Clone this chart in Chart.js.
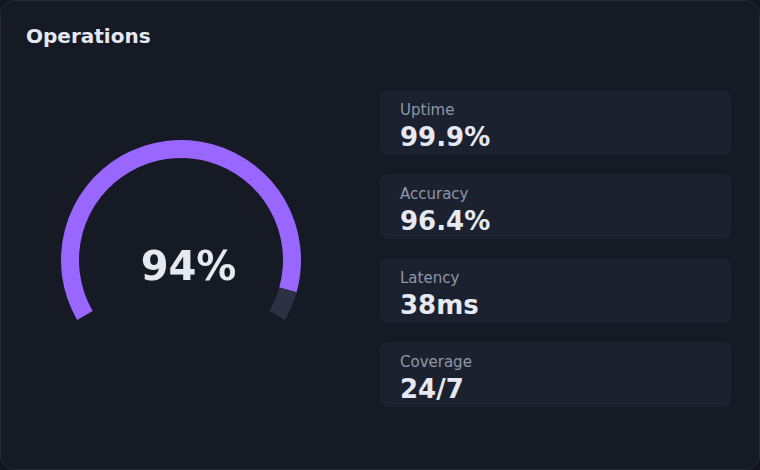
<!DOCTYPE html>
<html>
<head>
<meta charset="utf-8">
<script src="https://cdn.jsdelivr.net/npm/chart.js@4/dist/chart.umd.min.js"></script>
<style>
  html, body { margin: 0; padding: 0; background: #12151d; }
  body { width: 760px; height: 470px; font-family: "DejaVu Sans", sans-serif; }
  .card {
    position: absolute; left: 0; top: 0; width: 758px; height: 468px;
    background: #161a24; border: 1px solid #262b38; border-radius: 14px; overflow: hidden;
  }
  .title { position: absolute; left: 25px; top: 25px; font-size: 20px; line-height: 20px; font-weight: bold; color: #e6e9f2; }
  #gauge { position: absolute; left: 30px; top: 139px; }
  .big { position: absolute; left: 0; width: 375px; top: 245px; text-align: center; font-size: 40px; line-height: 40px; font-weight: bold; color: #e6e9f2; }
  .tile { position: absolute; left: 379px; width: 351px; height: 65px; background: #1c2130; border-radius: 8px; }
  .tile .lbl { position: absolute; left: 20px; top: 13px; font-size: 15px; line-height: 15px; color: #8f96a6; }
  .tile .val { position: absolute; left: 20px; top: 34px; font-size: 26px; line-height: 26px; font-weight: bold; color: #e6e9f2; }
</style>
</head>
<body>
<div class="card">
  <div class="title">Operations</div>
  <canvas id="gauge" width="300" height="180"></canvas>
  <div class="big" id="big"></div>
  <div id="tiles"></div>
</div>
<script>
// gauge value
const gaugeLabels = ['Operations', 'Remaining'];
const gaugeValues = [94, 6];

// stat tiles
const statLabels = ['Uptime', 'Accuracy', 'Latency', 'Coverage'];
const statValues = ['99.9%', '96.4%', '38ms', '24/7'];

document.getElementById('big').textContent = gaugeValues[0] + '%';

const tiles = document.getElementById('tiles');
statLabels.forEach((l, i) => {
  const t = document.createElement('div');
  t.className = 'tile';
  t.style.top = (89 + i * 84) + 'px';
  t.innerHTML = '<div class="lbl">' + l + '</div><div class="val">' + statValues[i] + '</div>';
  tiles.appendChild(t);
});

const ctx = document.getElementById('gauge').getContext('2d');
new Chart(ctx, {
  type: 'doughnut',
  data: {
    labels: gaugeLabels,
    datasets: [{
      data: gaugeValues,
      backgroundColor: ['#9966ff', '#2c3243'],
      borderWidth: 0
    }]
  },
  options: {
    responsive: false,
    animation: false,
    rotation: -120,
    circumference: 240,
    cutout: '85%',
    plugins: {
      legend: { display: false },
      tooltip: { enabled: false }
    }
  }
});
</script>
</body>
</html>
